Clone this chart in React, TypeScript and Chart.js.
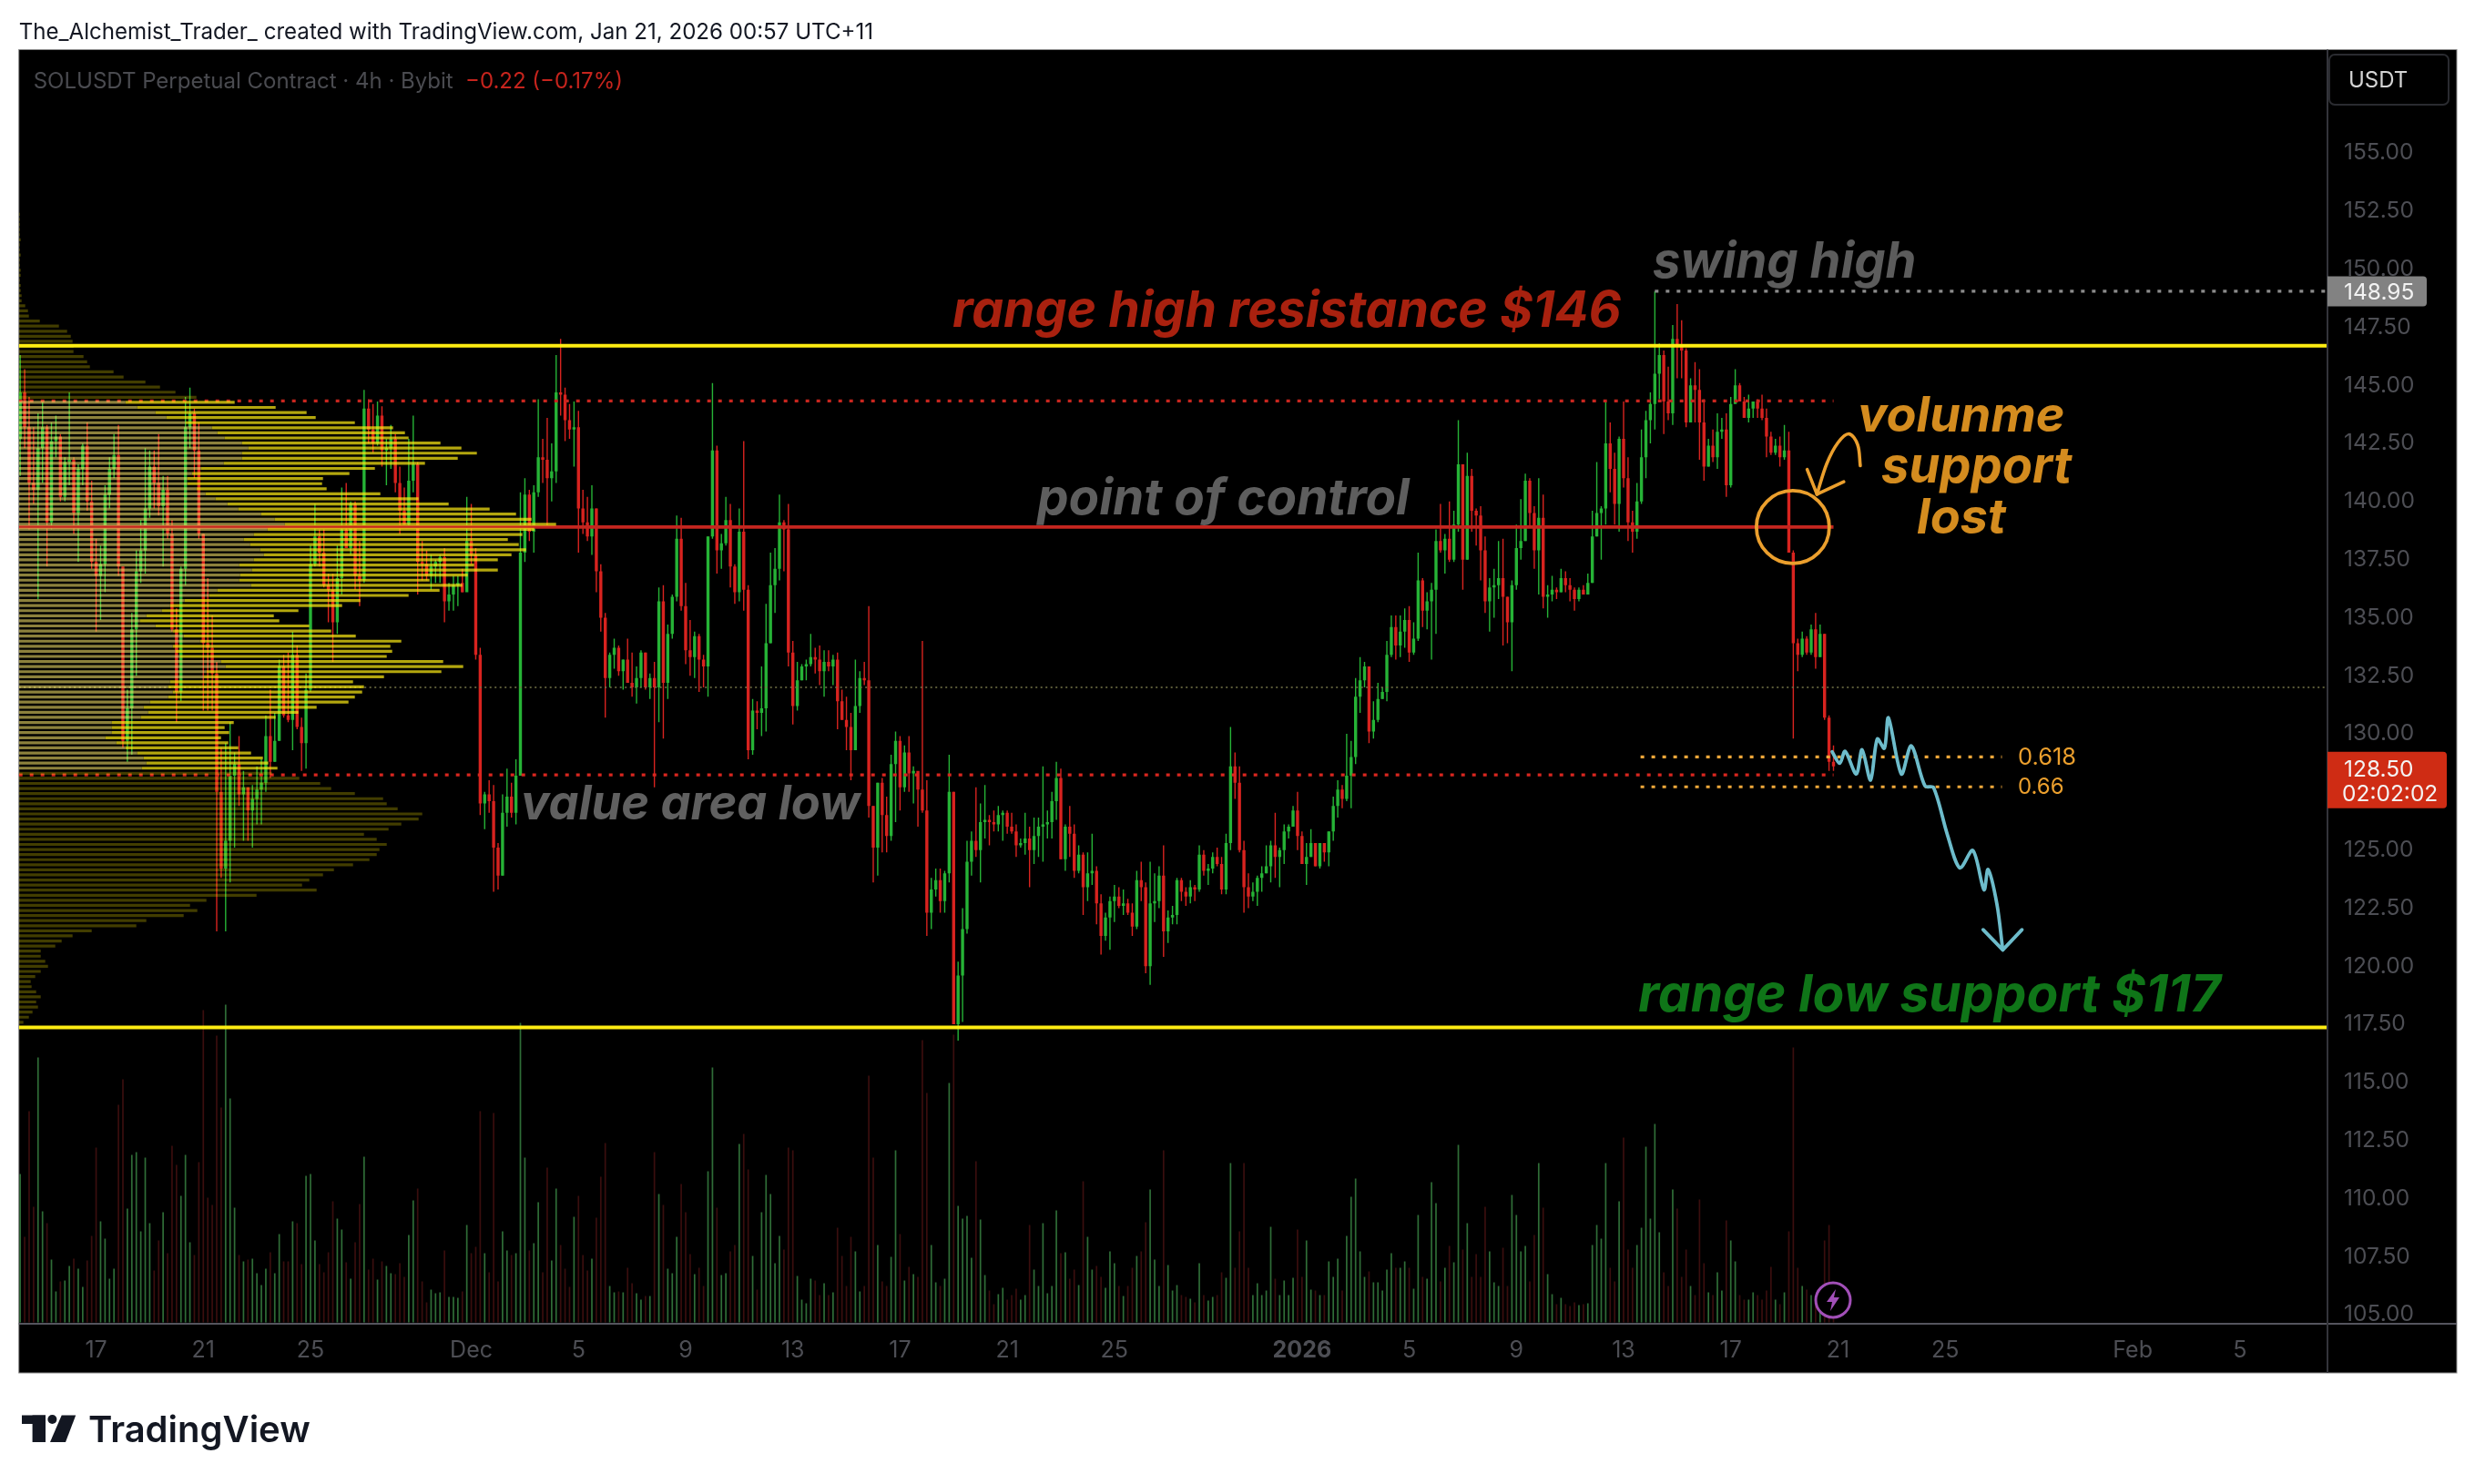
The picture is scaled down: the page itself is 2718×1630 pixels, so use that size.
import React, { useEffect, useRef } from "react";
import Chart from "chart.js/auto";

// 4h candles, oldest first. Open of each bar is the close of the one before.
const firstOpen = 142.6;
const closes = [
  144.6,143.1,140.7,140.4,142.2,143.1,139.0,142.5,142.7,140.1,
  141.6,141.7,139.4,141.3,142.3,139.9,137.3,136.7,137.2,140.2,
  141.3,141.9,137.1,129.6,131.0,134.4,136.9,137.8,139.6,141.4,
  140.7,139.7,140.4,138.5,134.4,131.7,137.0,143.1,143.7,142.1,
  138.5,133.8,133.6,132.5,127.4,124.1,125.3,128.1,128.6,127.3,
  127.6,126.6,127.1,127.5,127.8,129.8,128.7,129.6,132.8,130.7,
  130.5,133.3,130.2,129.5,131.8,137.2,138.4,137.7,136.3,136.1,
  134.7,136.6,138.7,137.9,139.8,136.7,136.5,143.9,143.0,142.4,
  143.6,142.1,142.2,142.6,140.7,139.5,138.9,140.8,141.5,137.3,
  137.2,136.7,137.1,137.3,137.5,135.6,135.9,136.3,136.4,136.0,
  138.2,137.6,133.3,126.9,127.3,127.0,125.0,123.8,126.5,127.2,
  126.5,128.1,137.7,140.2,138.6,140.3,141.8,141.7,140.9,141.2,
  144.6,144.5,143.4,143.0,143.1,139.6,139.0,138.4,139.6,136.9,
  134.9,132.3,133.3,133.6,132.6,133.1,132.1,131.9,132.3,133.4,
  131.9,132.3,131.9,135.6,132.1,134.2,135.8,138.3,135.4,133.5,
  133.2,134.1,133.1,132.8,138.4,142.1,137.8,138.1,139.1,137.1,
  136.0,138.6,136.1,129.2,130.9,130.8,131.0,133.8,136.3,137.0,
  139.0,138.7,133.4,131.1,132.2,132.8,132.9,133.2,133.1,132.6,
  133.0,132.8,133.1,131.3,130.5,130.2,129.2,131.1,132.3,132.2,
  126.8,125.0,127.8,126.4,125.5,128.6,129.6,127.6,129.1,128.2,
  128.3,127.5,126.6,122.2,123.2,123.6,122.7,123.9,127.4,117.4,
  119.5,121.5,124.4,125.3,124.9,126.1,126.2,126.1,126.0,126.4,
  126.5,125.9,125.7,125.1,125.2,125.4,124.9,125.5,125.9,126.0,
  126.1,127.0,128.0,124.5,125.9,125.6,124.0,124.7,123.3,123.9,
  124.0,122.6,121.2,122.0,122.7,122.9,122.5,122.6,122.2,121.6,
  123.6,123.3,119.9,122.6,122.7,123.8,121.4,122.0,122.1,123.6,
  123.1,122.9,123.3,123.2,124.7,124.0,124.1,124.6,124.3,123.2,
  125.2,128.5,127.8,124.9,123.3,122.9,123.1,123.7,123.9,124.2,
  125.1,124.6,124.9,125.7,125.9,126.6,125.5,124.3,124.6,125.2,
  124.2,125.2,124.8,125.7,126.8,127.5,127.1,128.1,128.9,131.5,
  132.2,132.8,130.0,130.5,131.4,131.7,133.3,134.5,133.7,134.3,
  134.8,133.4,134.0,136.5,135.2,135.6,136.1,138.2,137.8,138.3,
  137.4,138.9,141.5,137.4,141.0,139.5,139.3,137.8,135.6,136.2,
  136.3,136.6,135.8,134.7,136.3,137.9,138.2,140.8,139.4,137.8,
  139.2,135.8,135.9,136.1,136.0,136.6,136.3,136.1,135.7,136.1,
  135.9,136.4,138.4,139.4,139.6,142.4,141.3,139.8,142.6,140.9,
  139.0,138.6,139.9,141.8,143.4,144.1,145.4,146.2,144.2,143.7,
  146.9,146.6,146.4,143.3,144.9,144.7,143.3,141.4,142.3,141.8,
  142.9,143.0,140.6,144.1,144.9,144.2,143.5,143.9,144.2,143.9,
  143.5,142.7,142.0,142.3,141.8,142.1,137.7,133.8,133.3,134.0,
  133.4,134.4,133.2,134.2,130.6,128.7,128.5,
];
const highs = [
  146.2,145.6,144.4,143.1,143.7,144.2,143.2,143.3,143.6,142.8,
  141.8,144.6,141.8,141.5,142.4,143.3,140.8,138.3,138.0,140.6,
  141.8,142.8,143.2,137.1,131.8,135.1,137.8,139.1,142.2,142.1,
  142.1,142.8,141.0,141.0,139.1,135.3,137.1,144.4,144.8,143.9,
  143.3,138.5,136.6,135.0,133.0,129.3,129.5,130.4,129.1,129.8,
  128.3,127.6,127.7,128.5,128.8,130.7,131.8,130.8,133.1,133.3,
  133.4,134.3,133.7,130.6,132.5,138.0,139.8,138.7,138.7,136.8,
  136.8,138.0,140.5,140.7,139.9,139.9,138.2,144.7,144.3,144.1,
  144.2,144.0,142.6,143.2,142.8,141.4,140.5,142.6,143.6,141.6,
  138.2,137.8,137.6,137.4,137.6,137.9,136.4,136.7,136.7,137.0,
  140.1,139.8,137.9,133.6,127.4,127.9,127.7,125.2,127.3,128.4,
  127.8,128.8,140.3,140.9,140.4,140.6,144.3,142.6,143.5,142.4,
  146.2,146.9,144.8,144.1,144.2,143.8,140.4,140.1,140.6,139.6,
  137.2,135.1,133.4,134.0,133.7,133.1,134.0,133.4,132.8,133.5,
  133.4,132.5,133.0,136.2,136.3,134.6,135.9,139.3,139.2,136.4,
  134.8,134.3,134.2,133.3,138.4,145.0,142.3,138.5,140.1,139.8,
  137.2,139.6,142.5,136.3,131.4,131.3,132.8,135.5,137.7,137.9,
  140.2,139.1,139.8,133.9,133.0,132.9,133.1,134.2,133.6,133.7,
  133.5,133.5,133.3,133.4,131.8,131.5,130.8,133.1,132.6,133.0,
  135.4,126.8,127.8,128.0,127.2,129.0,130.0,129.8,129.4,129.8,
  128.5,128.2,133.9,127.9,123.7,124.1,124.1,124.0,129.0,127.4,
  120.1,122.4,125.3,125.7,127.6,126.9,127.7,126.4,126.6,126.8,
  126.6,126.6,126.5,126.0,125.4,126.5,125.9,126.3,126.3,128.5,
  126.6,127.4,128.7,128.4,126.0,126.8,126.0,125.1,124.8,124.8,
  125.6,124.2,123.0,122.2,122.9,123.4,123.3,123.2,122.8,122.6,
  124.0,124.4,123.5,124.4,123.9,124.2,125.1,122.3,122.5,123.7,
  123.7,123.3,123.6,123.4,125.1,124.9,124.3,124.8,125.0,124.6,
  125.6,130.2,129.1,128.5,125.3,123.9,123.5,123.8,124.2,125.1,
  125.3,126.5,125.0,126.0,126.0,126.8,127.4,125.7,125.2,125.8,
  125.2,125.2,125.2,125.7,127.2,127.9,127.7,129.9,129.6,132.3,
  133.2,133.0,132.8,131.3,132.1,131.9,133.9,135.0,135.0,135.0,
  135.3,135.4,134.7,137.7,136.6,136.0,136.4,138.7,139.8,138.5,
  139.9,139.5,143.4,141.5,142.0,141.3,139.6,139.7,138.4,136.6,
  137.0,138.2,138.3,135.8,136.5,138.9,140.0,141.1,140.9,139.7,
  140.9,140.2,136.3,136.7,136.2,137.0,136.9,136.6,136.2,136.2,
  136.3,136.8,139.5,141.6,139.7,144.2,143.3,142.0,142.7,144.2,
  141.8,139.5,140.7,143.0,143.8,144.6,148.95,146.7,146.4,145.7,
  147.5,148.4,147.7,146.5,145.2,145.9,145.6,144.3,142.6,143.0,
  143.7,143.5,143.7,144.4,145.6,145.0,144.4,144.5,144.2,144.3,
  144.5,143.9,142.9,142.6,142.7,143.2,142.9,137.8,134.0,134.3,
  134.1,134.6,135.1,134.6,134.2,130.7,129.4,
];
const lows = [
  141.0,142.2,138.7,139.8,135.7,140.7,137.1,138.7,141.8,139.9,
  139.9,140.6,138.5,137.3,140.6,139.5,137.0,134.3,134.8,136.0,
  139.6,140.9,136.7,129.3,128.7,129.0,132.4,136.4,136.8,139.2,
  139.6,139.3,137.1,138.3,134.3,130.4,131.3,136.3,142.2,140.9,
  138.3,130.9,130.9,130.9,121.4,123.7,121.4,123.5,125.0,126.8,
  125.3,125.3,125.0,126.0,126.0,127.4,128.0,128.7,129.6,130.6,
  130.4,129.2,130.1,128.3,128.4,131.7,137.1,137.1,136.2,134.7,
  133.0,134.2,135.9,137.9,137.6,136.1,135.4,136.4,142.4,142.0,
  142.3,141.4,140.6,141.3,140.3,138.5,138.9,138.8,140.3,135.9,
  136.5,136.5,136.1,136.4,136.4,134.7,135.2,135.2,135.4,136.0,
  136.1,137.2,133.1,126.4,125.8,126.5,123.1,123.2,123.8,125.9,
  126.3,126.0,128.1,137.3,138.2,137.7,140.1,140.7,138.8,139.9,
  140.7,143.6,142.5,142.6,141.4,137.7,138.5,138.2,137.6,136.0,
  134.3,130.6,131.9,132.7,132.4,131.8,132.1,131.5,131.2,131.9,
  131.8,131.4,127.6,130.4,129.7,131.4,134.0,135.6,135.2,132.9,
  132.4,132.3,131.7,131.9,131.5,138.3,136.8,137.0,138.0,136.2,
  135.5,135.6,135.2,128.8,129.0,130.1,129.8,130.0,133.8,135.1,
  136.5,136.9,132.8,130.3,130.9,132.2,132.2,132.8,132.5,132.0,
  131.5,132.6,132.0,130.1,130.5,129.2,127.9,129.2,130.8,132.0,
  126.3,123.5,123.8,124.8,124.8,125.3,126.1,126.6,127.4,127.4,
  126.9,125.9,126.5,121.2,121.5,122.9,122.2,122.2,123.5,117.4,
  116.7,117.5,121.3,123.8,124.6,123.5,125.4,125.1,125.7,125.7,
  125.3,125.6,125.6,124.6,125.0,124.7,123.3,124.3,124.6,124.4,
  125.4,125.4,126.2,124.5,124.0,124.6,123.7,123.9,122.1,122.7,
  123.4,121.7,120.4,121.0,120.6,121.8,122.4,122.1,122.1,121.2,
  121.5,122.7,119.6,119.1,121.8,122.4,120.3,120.9,121.7,121.7,
  122.7,122.5,122.6,122.7,123.1,123.8,123.4,123.9,124.2,123.0,
  123.0,124.9,127.1,124.8,122.2,122.4,122.7,122.5,123.1,123.9,
  123.5,123.7,123.3,124.3,125.4,125.9,124.9,124.3,123.4,124.6,
  124.2,124.1,124.4,124.2,125.3,126.3,126.7,127.0,126.7,128.6,
  130.8,131.9,129.5,129.7,130.4,131.4,131.3,133.2,133.1,133.2,
  133.6,133.0,133.3,133.9,134.5,134.4,133.1,134.2,137.7,136.8,
  137.3,137.3,138.6,136.1,137.4,138.6,138.0,136.5,135.1,134.3,
  134.9,135.7,133.7,133.8,132.6,136.1,137.4,138.2,138.8,137.0,
  135.9,135.3,134.9,135.6,135.7,136.0,136.0,135.6,135.2,135.6,
  135.9,135.9,136.4,138.4,137.4,138.9,140.3,138.9,138.6,140.5,
  138.2,137.7,138.3,139.8,140.9,142.4,143.0,144.3,142.8,143.4,
  143.2,145.2,145.2,143.1,143.3,143.3,141.7,140.8,141.4,141.6,
  141.3,142.6,140.1,140.5,144.2,144.2,143.5,143.3,143.5,143.5,
  143.4,141.8,141.9,141.9,141.4,141.7,137.7,129.7,132.6,133.2,
  133.3,133.3,132.7,133.2,130.5,128.3,128.3,
];
const volumes = [
  163,94,232,127,291,122,109,69,34,45,
  46,62,70,59,39,68,95,192,111,92,
  48,59,239,267,125,184,187,100,181,109,
  57,90,121,76,194,173,139,184,88,74,
  176,343,137,129,315,236,349,246,126,74,
  67,69,70,54,41,59,77,54,97,67,
  67,111,109,64,161,163,90,64,55,77,
  133,114,102,66,48,88,130,182,58,70,
  47,67,62,54,53,65,50,96,134,147,
  45,22,36,32,33,79,28,28,27,34,
  107,76,83,232,76,55,230,45,100,79,
  74,76,329,181,79,87,132,55,170,68,
  147,85,59,39,116,139,74,57,70,115,
  160,197,40,33,34,33,60,43,32,25,
  29,29,187,141,129,59,54,94,152,121,
  75,53,60,40,166,280,126,52,54,78,
  85,196,207,168,73,36,121,162,141,65,
  95,80,192,189,51,25,21,48,46,30,
  43,30,33,104,73,40,94,78,34,40,
  271,181,85,45,40,72,189,97,46,61,
  53,50,310,252,85,44,40,48,263,316,
  128,114,117,71,177,113,52,35,20,31,
  38,25,30,37,25,30,107,58,40,109,
  32,40,123,76,77,48,58,41,155,94,
  58,62,50,38,78,65,40,29,40,60,
  73,78,110,146,69,40,189,63,35,41,
  30,28,26,22,65,30,24,28,30,55,
  49,175,60,100,175,60,30,43,30,35,
  105,48,30,46,30,49,102,50,90,36,
  35,30,30,67,50,70,35,95,138,158,
  78,50,56,44,44,35,58,76,60,60,
  67,60,37,118,50,48,154,131,45,60,
  84,66,195,80,109,50,75,50,127,78,
  44,40,82,40,140,118,78,84,45,96,
  175,126,53,31,20,27,20,18,22,19,
  20,21,85,107,92,175,60,45,133,203,
  80,60,85,104,193,114,218,99,55,40,
  146,125,50,80,40,30,135,65,33,30,
  55,35,112,90,67,30,25,25,33,30,
  25,35,61,25,20,33,100,302,60,40,
  36,30,25,30,90,107,40,
];

// volume profile rows, top to bottom
const profileTopPrice = 152.26;
const profileRowStep = 0.2187;
const profileTotal = [
  1,1,1,1,1,2,1,1,2,1,1,2,2,1,2,2,3,3,
  7,10,11,23,44,53,57,59,60,60,71,75,78,104,115,139,155,172,195,
  237,282,316,326,369,411,424,428,463,486,503,482,446,391,363,334,333,338,397,439,472,517,546,563,590,
  566,553,537,549,557,541,526,500,526,493,451,487,462,428,375,355,307,280,286,319,343,370,420,408,410,404,
  466,488,464,401,367,379,377,369,362,327,307,282,236,226,231,222,230,241,255,268,274,284,
  278,308,331,343,369,400,404,416,443,439,420,406,379,393,404,396,393,385,367,346,334,319,311,327,261,
  206,188,196,181,140,129,80,59,47,40,24,24,29,32,24,18,13,14,19,24,19,21,15,11,5,
];
const profileValueUp = [
  117,130,150,162,183,212,218,226,245,252,245,245,225,200,190,185,185,195,205,216,229,241,266,281,292,
  273,258,247,254,265,269,258,242,256,243,242,255,218,209,182,166,157,140,133,150,169,181,199,169,172,177,
  222,227,206,203,166,164,169,164,144,137,142,134,102,102,102,95,107,117,130,137,140,135,
];
const valueAreaFirstRow = 37;

const priceTicks = [155,152.5,150,147.5,145,142.5,140,137.5,135,132.5,130,127.5,125,122.5,120,117.5,115,112.5,110,107.5,105];
const dateTickBars = [17,41,65,101,125,149,173,197,221,245,287,311,335,359,383,407,431,473,497];
const dateTickLabels = ["17","21","25","Dec","5","9","13","17","21","25","2026","5","9","13","17","21","25","Feb","5"];

const rangeHigh = 146.6;
const rangeLow = 117.26;
const pointOfControl = 138.8;
const valueAreaHigh = 144.23;
const valueAreaLow = 128.13;
const midLevel = 131.9;
const swingHigh = 148.95;
const lastPrice = 128.5;
const fib618 = 128.91;
const fib66 = 127.62;

const lastBar = 406;
const swingBar = 366;
const fibStartBar = 362.8;
const fibEndBar = 443.7;

// hand-drawn projection and arrow (bar, price)
const projectionBars = [405.7,407.4,408.6,411.1,412.4,414.3,415.8,417.4,418.3,421.2,423.4,426.5,428.4,431.5,434.3,437.2,439.7,440.6,442.6,443.9];
const projectionPrices = [129.13,128.63,129.15,128.17,129.22,127.91,129.68,129.28,130.59,128.17,129.38,127.65,127.59,125.56,124.13,124.88,123.19,124.06,122.56,120.6];
const projectionHeadBars = [439.5,443.9,448.2];
const projectionHeadPrices = [121.47,120.6,121.47];
const arrowBars = [412.0,411.4,409.5,407.0,404.5,402.3];
const arrowPrices = [141.44,142.35,142.81,142.43,141.53,140.21];
const arrowHeadBars = [400.1,402.3,408.3];
const arrowHeadPrices = [141.28,140.21,140.75];

const UP = "#26b336";
const DOWN = "#d8231f";
const VOL_UP = "#2f6d37";
const VOL_DOWN = "#3a0e0e";
const ORANGE = "#eb9f2d";
const AXIS_TEXT = "#4d4e54";
const FONT = "Inter";

const opens = closes.map((_, i) => (i === 0 ? firstOpen : closes[i - 1]));
const isUp = closes.map((c, i) => c >= opens[i]);

const xy = (xs: number[], ys: number[]) => xs.map((x, i) => ({ x, y: ys[i] }));

const hLine = (y: number, from: number, to: number, color: string, width: number, order: number, dash: number[] = []) => ({
  type: "scatter" as const,
  showLine: true,
  data: [{ x: from, y }, { x: to, y }],
  borderColor: color,
  borderWidth: width,
  borderDash: dash,
  pointRadius: 0,
  order,
});

const path = (data: { x: number; y: number }[], color: string, width: number, order: number, tension = 0) => ({
  type: "scatter" as const,
  showLine: true,
  data,
  borderColor: color,
  borderWidth: width,
  pointRadius: 0,
  tension,
  borderCapStyle: "round" as const,
  borderJoinStyle: "round" as const,
  order,
});

const barBase = { type: "bar" as const, grouped: false, categoryPercentage: 1, barPercentage: 1, inflateAmount: 0, borderWidth: 0 };

// one broken line per colour, each row is a two point run
function profileRuns(pick: (i: number) => [number, number] | null) {
  const out: { x: number; y: number }[] = [];
  profileTotal.forEach((_, i) => {
    const run = pick(i);
    if (!run) return;
    const y = profileTopPrice - i * profileRowStep;
    out.push({ x: run[0], y }, { x: run[1], y }, { x: NaN, y: NaN });
  });
  return out;
}
const inValueArea = (i: number) => i >= valueAreaFirstRow && i < valueAreaFirstRow + profileValueUp.length;

const profileDataset = (data: { x: number; y: number }[], color: string) => ({
  type: "scatter" as const,
  showLine: true,
  xAxisID: "x1",
  data,
  borderColor: color,
  borderWidth: 3.2,
  pointRadius: 0,
  spanGaps: false,
  order: 5,
});

const labels = [
  { text: "swing high", left: 1815, baseline: 305, size: 54.4, color: "#5c5c5c" },
  { text: "range high resistance $146", left: 1046, baseline: 359, size: 55.3, color: "#a8210f" },
  { text: "point of control", left: 1139, baseline: 565, size: 54.8, color: "#5e5e5e" },
  { text: "value area low", left: 572, baseline: 900, size: 52.3, color: "#606060" },
  { text: "range low support $117", left: 1799, baseline: 1111, size: 56.9, color: "#0f7518" },
  { text: "volunme", left: 2040, baseline: 474, size: 54, color: "#d48c1f" },
  { text: "support", left: 2066, baseline: 530, size: 54.3, color: "#d48c1f" },
  { text: "lost", left: 2105, baseline: 586, size: 54, color: "#d48c1f" },
];

const overlay = {
  id: "overlay",
  beforeDraw(chart: any) {
    const { ctx, chartArea, scales } = chart;
    const right = scales.y.right;
    const bottom = scales.x.bottom;
    ctx.save();
    ctx.fillStyle = "#ffffff";
    ctx.fillRect(0, 0, chart.width, chart.height);
    ctx.fillStyle = "#000000";
    ctx.fillRect(chartArea.left, chartArea.top, right - chartArea.left, bottom - chartArea.top);
    ctx.strokeStyle = "#8c8c8c";
    ctx.lineWidth = 1;
    ctx.strokeRect(chartArea.left, chartArea.top, right - chartArea.left, bottom - chartArea.top);
    ctx.fillStyle = "#55555e";
    ctx.fillRect(chartArea.left, chartArea.bottom - 2, right - chartArea.left, 2);
    ctx.fillStyle = "#33343a";
    ctx.fillRect(chartArea.right, chartArea.top, 2, bottom - chartArea.top);

    ctx.fillStyle = "#131722";
    ctx.textBaseline = "alphabetic";
    ctx.font = `24.1px ${FONT}`;
    ctx.fillText("The_Alchemist_Trader_ created with TradingView.com, Jan 21, 2026 00:57 UTC+11", 20.7, 43);
    ctx.font = `600 40px ${FONT}`;
    ctx.fillText("TradingView", 97, 1584);
    // logo mark
    ctx.fillRect(24, 1554.5, 26, 9.5);
    ctx.fillRect(35.6, 1554.5, 14.4, 29.5);
    ctx.beginPath();
    ctx.arc(57.4, 1559, 5, 0, Math.PI * 2);
    ctx.fill();
    ctx.beginPath();
    ctx.moveTo(67.7, 1554.5);
    ctx.lineTo(83.2, 1554.5);
    ctx.lineTo(72, 1584);
    ctx.lineTo(55, 1584);
    ctx.closePath();
    ctx.fill();
    ctx.restore();
  },
  afterDraw(chart: any) {
    const { ctx, chartArea, scales } = chart;
    const xs = scales.x;
    const ys = scales.y;
    ctx.save();
    ctx.textBaseline = "alphabetic";
    labels.forEach((l) => {
      ctx.font = `italic 700 ${l.size}px ${FONT}`;
      ctx.fillStyle = l.color;
      ctx.fillText(l.text, l.left, l.baseline);
    });

    ctx.textBaseline = "middle";
    ctx.font = `24px ${FONT}`;
    ctx.fillStyle = "#4a4b50";
    ctx.fillText("SOLUSDT Perpetual Contract · 4h · Bybit", 36.7, 90);
    ctx.fillStyle = "#c6241d";
    ctx.fillText("−0.22 (−0.17%)", 511, 90);

    ctx.fillStyle = ORANGE;
    ctx.font = `25.5px ${FONT}`;
    ctx.fillText("0.618", 2216, ys.getPixelForValue(fib618) + 1);
    ctx.font = `24px ${FONT}`;
    ctx.fillText("0.66", 2216, ys.getPixelForValue(fib66) + 1);

    // circle around the lost level
    ctx.strokeStyle = ORANGE;
    ctx.lineWidth = 3.8;
    ctx.beginPath();
    ctx.arc(xs.getPixelForValue(396.9), ys.getPixelForValue(pointOfControl), 40, 0, Math.PI * 2);
    ctx.stroke();

    // price scale badges
    const axisLeft = chartArea.right + 1;
    const swingY = ys.getPixelForValue(swingHigh);
    ctx.fillStyle = "#828282";
    ctx.beginPath();
    ctx.roundRect(axisLeft, swingY - 16.5, 109, 33, [0, 4, 4, 0]);
    ctx.fill();
    ctx.fillStyle = "#f2f2f2";
    ctx.font = `24.5px ${FONT}`;
    ctx.fillText(swingHigh.toFixed(2), 2574, swingY + 1.5);

    const lastY = ys.getPixelForValue(lastPrice);
    ctx.fillStyle = "#cf2c14";
    ctx.beginPath();
    ctx.roundRect(axisLeft, lastY - 16, 131, 62, [0, 4, 4, 0]);
    ctx.fill();
    ctx.fillStyle = "#f4f4f4";
    ctx.fillText(lastPrice.toFixed(2), 2574, lastY + 3.5);
    ctx.fillText("02:02:02", 2572, lastY + 30.5);

    // currency cell
    ctx.strokeStyle = "#2a2b30";
    ctx.lineWidth = 2;
    ctx.beginPath();
    ctx.roundRect(chartArea.right + 3, 60, 131, 55, 6);
    ctx.stroke();
    ctx.fillStyle = "#d4d4d4";
    ctx.font = `24px ${FONT}`;
    ctx.fillText("USDT", 2579, 89);

    // alert badge
    const cx = 2013;
    const cy = 1428;
    ctx.fillStyle = "#000000";
    ctx.strokeStyle = "#a24fb8";
    ctx.lineWidth = 3;
    ctx.beginPath();
    ctx.arc(cx, cy, 19, 0, Math.PI * 2);
    ctx.fill();
    ctx.stroke();
    ctx.fillStyle = "#a24fb8";
    ctx.beginPath();
    ctx.moveTo(cx + 3, cy - 12);
    ctx.lineTo(cx - 7, cy + 2);
    ctx.lineTo(cx - 1, cy + 2);
    ctx.lineTo(cx - 3, cy + 12);
    ctx.lineTo(cx + 7, cy - 3);
    ctx.lineTo(cx + 1, cy - 3);
    ctx.closePath();
    ctx.fill();
    ctx.restore();
  },
};

const App = () => {
  const chartRef = useRef<HTMLCanvasElement>(null);

  useEffect(() => {
    document.body.style.margin = "0";
    document.body.style.background = "#ffffff";
    if (!chartRef.current) return;

    const bars = closes.map((_, i) => i);
    const dots = [4, 8];
    const chart = new Chart(chartRef.current, {
      type: "bar",
      data: {
        datasets: [
          hLine(rangeHigh, -0.3, 516.4, "#fdec12", 4, 1),
          hLine(rangeLow, -0.3, 516.4, "#fdec12", 4, 1),
          path(xy(projectionBars, projectionPrices), "#6dbccb", 3.8, 2, 0.3),
          path(xy(projectionHeadBars, projectionHeadPrices), "#6dbccb", 3.8, 2),
          path(xy(arrowBars, arrowPrices), ORANGE, 3.6, 2, 0.35),
          path(xy(arrowHeadBars, arrowHeadPrices), ORANGE, 3.6, 2),
          hLine(swingHigh, swingBar, 516.4, "#8b8b8b", 3.2, 3, dots),
          hLine(fib618, fibStartBar, fibEndBar, "#f0a83a", 3.2, 3, dots),
          hLine(fib66, fibStartBar, fibEndBar, "#f0a83a", 3.2, 3, dots),
          // volume profile sits over the candles, so they show through tinted
          profileDataset(
            profileRuns((i) => (inValueArea(i) ? null : [0, profileTotal[i]])),
            "rgba(255,235,0,0.26)"
          ),
          profileDataset(
            profileRuns((i) => (inValueArea(i) ? [0, profileValueUp[i - valueAreaFirstRow]] : null)),
            "rgba(255,235,110,0.55)"
          ),
          profileDataset(
            profileRuns((i) => (inValueArea(i) ? [profileValueUp[i - valueAreaFirstRow], profileTotal[i]] : null)),
            "rgba(255,236,20,0.7)"
          ),
          hLine(pointOfControl, -0.3, lastBar, "#c4261f", 3.6, 6),
          hLine(valueAreaHigh, -0.3, lastBar, "#c9261f", 3.2, 6, dots),
          hLine(valueAreaLow, -0.3, lastBar, "#d9261f", 3.2, 6, dots),
          hLine(midLevel, -0.3, 516.4, "#77774a", 1.6, 6, [2, 3.5]),
          {
            ...barBase,
            data: bars.map((i) => ({ x: i, y: [Math.min(opens[i], closes[i]), Math.max(opens[i], closes[i])] })),
            backgroundColor: isUp.map((u) => (u ? UP : DOWN)),
            maxBarThickness: 3.4,
            minBarLength: 2,
            order: 7,
          },
          {
            ...barBase,
            data: bars.map((i) => ({ x: i, y: [lows[i], highs[i]] })),
            backgroundColor: isUp.map((u) => (u ? UP : DOWN)),
            maxBarThickness: 1.4,
            order: 8,
          },
          {
            ...barBase,
            yAxisID: "y1",
            data: bars.map((i) => ({ x: i, y: volumes[i] })),
            backgroundColor: isUp.map((u) => (u ? VOL_UP : VOL_DOWN)),
            maxBarThickness: 1.7,
            order: 9,
          },
        ] as any,
      },
      options: {
        responsive: false,
        animation: false,
        devicePixelRatio: 1,
        events: [],
        layout: { padding: { left: 20.7, top: 54.5, right: 20, bottom: 122 } },
        plugins: { legend: { display: false }, tooltip: { enabled: false } },
        scales: {
          x: {
            type: "linear",
            min: -0.3,
            max: 516.4,
            offset: false,
            grid: { display: false },
            border: { display: false },
            afterBuildTicks: (scale: any) => {
              scale.ticks = dateTickBars.map((value) => ({ value }));
            },
            afterFit: (scale: any) => {
              scale.height = 53;
            },
            ticks: {
              autoSkip: false,
              maxRotation: 0,
              padding: 5.5,
              color: AXIS_TEXT,
              font: (ctx: any) => ({
                family: FONT,
                size: 25,
                weight: ctx.tick && ctx.tick.value === 287 ? "bold" : "normal",
              }),
              callback: (v: any) => dateTickLabels[dateTickBars.indexOf(v)],
            },
          },
          x1: { type: "linear", display: false, offset: false, min: 0, max: 2534.3 },
          y: {
            position: "right",
            min: 104.47,
            max: 159.35,
            grid: { display: false },
            border: { display: false },
            afterBuildTicks: (scale: any) => {
              scale.ticks = priceTicks.map((value) => ({ value }));
            },
            afterFit: (scale: any) => {
              scale.width = 143;
            },
            ticks: {
              padding: 11,
              labelOffset: 2.5,
              color: AXIS_TEXT,
              font: { family: FONT, size: 24.5 },
              callback: (v: any) => Number(v).toFixed(2),
            },
          },
          y1: { type: "linear", display: false, min: -2.4, max: 1398 },
        },
      } as any,
      plugins: [overlay],
    });

    return () => {
      chart.destroy();
    };
  }, []);

  return <canvas ref={chartRef} width="2718" height="1630" style={{ display: "block" }}></canvas>;
};

export default App;
